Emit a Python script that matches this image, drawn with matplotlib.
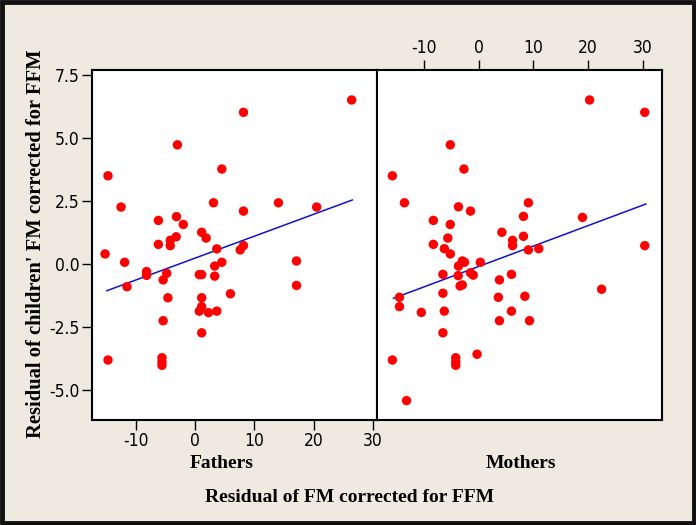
import matplotlib.pyplot as plt
from matplotlib.patches import Rectangle

# Fathers panel: residual FM (x) vs child residual FM (y)
fathers_x = [26.4, 8.15, -3.0, 4.5, -14.7, -12.5, 3.1, 14.05, 20.5, 8.15,
             -6.2, -3.15, -2.0, -3.2, -4.2, -4.2, -6.2, 1.1, 1.85, 3.65,
             7.6, 8.15, -15.2, -11.9, -8.2, -8.2, -4.8, -5.4, -11.5, -4.6,
             -5.4, -14.7, -5.6, -5.6, -5.6, 4.5, 3.3, 0.7, 1.1, 3.3,
             17.1, 17.1, 1.1, 5.95, 0.7, 1.1, 2.25, 3.65, 1.1]
fathers_y = [6.51, 6.02, 4.73, 3.77, 3.50, 2.26, 2.43, 2.43, 2.26, 2.10,
             1.73, 1.88, 1.57, 1.08, 0.94, 0.73, 0.78, 1.26, 1.03, 0.60,
             0.56, 0.73, 0.40, 0.07, -0.30, -0.45, -0.37, -0.63, -0.90, -1.34,
             -2.25, -3.81, -3.72, -3.88, -4.02, 0.07, -0.08, -0.42, -0.42, -0.48,
             0.12, -0.85, -1.34, -1.18, -1.87, -1.69, -1.93, -1.87, -2.73]

# Mothers panel
mothers_x = [20.3, 30.4, -5.2, -2.7, -15.8, -13.6, 9.1, -3.7, -1.5, 8.2,
             19.0, -8.3, -5.2, 4.25, -5.65, 8.2, 6.2, 6.2, -8.3, 30.4,
             -6.3, 9.1, 11.0, -5.2, -3.0, -2.6, 0.3, -3.7, -6.55, -3.75,
             -1.5, -1.0, 6.0, 3.8, -3.4, -3.0, -14.5, -6.55, 3.6, 8.45,
             22.5, -14.5, -10.5, -6.3, 6.0, 3.8, 9.3, -6.55, -0.3, -15.8,
             -4.2, -4.2, -4.2, -13.2]
mothers_y = [6.51, 6.02, 4.73, 3.77, 3.50, 2.43, 2.43, 2.27, 2.10, 1.89,
             1.85, 1.73, 1.57, 1.26, 1.03, 1.10, 0.94, 0.73, 0.78, 0.73,
             0.61, 0.56, 0.61, 0.40, 0.12, 0.07, 0.07, -0.08, -0.41, -0.46,
             -0.35, -0.44, -0.41, -0.63, -0.87, -0.83, -1.32, -1.16, -1.32, -1.28,
             -1.00, -1.69, -1.92, -1.87, -1.87, -2.25, -2.25, -2.73, -3.58, -3.81,
             -3.72, -3.88, -4.02, -5.42]

# fitted regression lines (end points)
fathers_fit_x = [-14.9, 26.5]
fathers_fit_y = [-1.06, 2.54]
mothers_fit_x = [-15.6, 30.6]
mothers_fit_y = [-1.36, 2.38]

x_ticks = [-10, 0, 10, 20, 30]
y_ticks = [-5.0, -2.5, 0.0, 2.5, 5.0, 7.5]
y_tick_labels = ['-5.0', '-2.5', '0.0', '2.5', '5.0', '7.5']

bg = '#eeeae0'
tick_kw = dict(family='DejaVu Sans', stretch='condensed', fontsize=12.5)
label_font = ['Liberation Serif', 'DejaVu Serif']

fig = plt.figure(figsize=(6.96, 5.25), dpi=100, facecolor=bg)

ax1 = fig.add_axes([0.1322, 0.2, 0.4088, 0.6667])
ax2 = fig.add_axes([0.541, 0.2, 0.4097, 0.6667], sharey=ax1)

for ax, xs, ys, fx, fy in [(ax1, fathers_x, fathers_y, fathers_fit_x, fathers_fit_y),
                           (ax2, mothers_x, mothers_y, mothers_fit_x, mothers_fit_y)]:
    ax.set_facecolor('white')
    ax.scatter(xs, ys, s=46, color='#ff0000', edgecolors='none', zorder=3)
    ax.plot(fx, fy, color='#1010d0', lw=1.1, zorder=2)
    for sp in ax.spines.values():
        sp.set_linewidth(1.5)
        sp.set_color('black')

ax1.set_xlim(-17.4, 30.6)
ax2.set_xlim(-18.7, 33.5)
ax1.set_ylim(-6.19, 7.7)

ax1.set_xticks(x_ticks)
ax1.set_xticklabels([str(t) for t in x_ticks], **tick_kw)
ax1.set_yticks(y_ticks)
ax1.set_yticklabels(y_tick_labels, **tick_kw)
ax1.tick_params(axis='both', direction='out', length=7, width=1, pad=2)

ax2.set_xticks(x_ticks)
ax2.set_xticklabels([str(t) for t in x_ticks], **tick_kw)
ax2.xaxis.tick_top()
ax2.tick_params(axis='x', direction='out', length=7, width=1, pad=2)
ax2.tick_params(axis='y', left=False, labelleft=False)

fig.text(222 / 696, 1 - 463 / 525, 'Fathers', ha='center', va='center',
         family=label_font, fontweight='bold', fontsize=14)
fig.text(521 / 696, 1 - 463 / 525, 'Mothers', ha='center', va='center',
         family=label_font, fontweight='bold', fontsize=14)
fig.text(350 / 696, 1 - 498 / 525, 'Residual of FM corrected for FFM', ha='center', va='center',
         family=label_font, fontweight='bold', fontsize=14)
fig.text(36 / 696, 1 - 244 / 525, "Residual of children' FM corrected for FFM", ha='center',
         va='center', rotation=90, family=label_font, fontweight='bold', fontsize=14.8)

# dark frame round the whole picture
fig.patches.append(Rectangle((0.0025, 0.004), 0.9945, 0.992, transform=fig.transFigure,
                             fill=False, edgecolor='#111111', lw=3.5))

fig.savefig('out.png', dpi=100, facecolor=bg)
